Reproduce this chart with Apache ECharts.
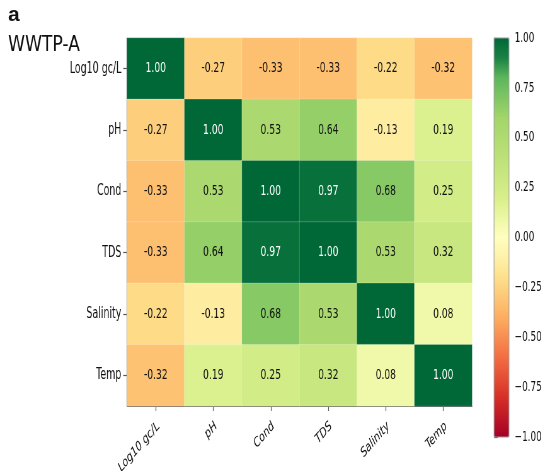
<!DOCTYPE html>
<html>
<head>
<meta charset="utf-8">
<script src="https://cdn.jsdelivr.net/npm/echarts@6/dist/echarts.min.js"></script>
<style>
html, body { margin: 0; padding: 0; background: #fff; overflow: hidden; }
#wrap { width: 550px; height: 471px; overflow: hidden; }
#main { height: 471px; transform-origin: 0 0; }
</style>
</head>
<body>
<div id="wrap"><div id="main"></div></div>
<script>
// variables, in row/column order
var vars = ['Log10 gc/L', 'pH', 'Cond', 'TDS', 'Salinity', 'Temp'];

// correlation matrix rows
var rowLog10    = [1.00, -0.27, -0.33, -0.33, -0.22, -0.32];
var rowPH       = [-0.27, 1.00, 0.53, 0.64, -0.13, 0.19];
var rowCond     = [-0.33, 0.53, 1.00, 0.97, 0.68, 0.25];
var rowTDS      = [-0.33, 0.64, 0.97, 1.00, 0.53, 0.32];
var rowSalinity = [-0.22, -0.13, 0.68, 0.53, 1.00, 0.08];
var rowTemp     = [-0.32, 0.19, 0.25, 0.32, 0.08, 1.00];
var rows = [rowLog10, rowPH, rowCond, rowTDS, rowSalinity, rowTemp];

// colorbar ticks
var cbMin = -1, cbMax = 1, cbStep = 0.25;

// RdYlGn-like ramp, one stop every 0.1 from -1 to 1
var ramp = ['#a50026', '#be1827', '#d73027', '#e54f35', '#f46d43', '#f88e52', '#fdae61',
            '#fdc776', '#fee08b', '#fef1aa', '#ffffbf', '#ecf7a5', '#d9ef8b', '#cbe882',
            '#bde178', '#b0db71', '#a3d56b', '#80c663', '#5db65c', '#1a8245', '#006837'];

// the original figure is squeezed horizontally; draw wide and squeeze with css
var SX = 0.63;
var el = document.getElementById('main');
el.style.width = Math.round(550 / SX) + 'px';
el.style.transform = 'scaleX(' + SX + ')';
function hx(px) { return px / SX; }

var myChart = echarts.init(el);

var cells = [];
rows.forEach(function (r, i) {
    r.forEach(function (v, j) {
        cells.push({
            value: [j, i, v],
            label: { color: v > 0.8 ? '#ffffff' : '#111111' }
        });
    });
});

var font = 'DejaVu Sans';

var option = {
    backgroundColor: '#ffffff',
    animation: false,
    graphic: [
        {
            type: 'text', x: hx(8), y: 5, scaleX: 1 / SX,
            style: { text: 'a', font: 'bold 21px "Liberation Sans"', fill: '#111', align: 'left', verticalAlign: 'top' }
        },
        {
            type: 'text', x: hx(8), y: 34, scaleX: 0.78 / SX,
            style: { text: 'WWTP-A', font: '22px "DejaVu Sans"', fill: '#111', align: 'left', verticalAlign: 'top' }
        }
    ],
    grid: [
        { left: hx(127), top: 38, width: hx(345), height: 368, outerBoundsMode: 'none', containLabel: false },
        { left: hx(494), top: 38, width: hx(15), height: 399, outerBoundsMode: 'none', containLabel: false,
          show: true, z: 10, backgroundColor: 'transparent', borderColor: '#999', borderWidth: 1 }
    ],
    xAxis: [
        {
            type: 'category', gridIndex: 0, data: vars,
            axisLine: { show: true, lineStyle: { color: '#555', width: 1.2 } },
            axisTick: { show: true, alignWithLabel: true, length: 5, lineStyle: { color: '#555', width: 1.2 } },
            axisLabel: { rotate: 36, fontFamily: font, fontSize: 14, color: '#111', margin: 13,
                         verticalAlign: 'top', interval: 0 }
        },
        {
            type: 'value', gridIndex: 1, show: false, min: 0, max: 1
        }
    ],
    yAxis: [
        {
            type: 'category', gridIndex: 0, data: vars, inverse: true,
            axisLine: { show: true, lineStyle: { color: '#555', width: 1.2 } },
            axisTick: { show: true, alignWithLabel: true, length: 6, lineStyle: { color: '#555', width: 1.2 } },
            axisLabel: { fontFamily: font, fontSize: 15, color: '#111', margin: 9, interval: 0 }
        },
        {
            type: 'value', gridIndex: 1, position: 'right',
            min: cbMin, max: cbMax, interval: cbStep,
            splitLine: { show: false },
            axisLine: { show: false },
            axisTick: { show: true, length: 6, lineStyle: { color: '#555', width: 1.2 } },
            axisLabel: {
                fontFamily: font, fontSize: 14, color: '#111', margin: 9,
                formatter: function (v) { return (v < 0 ? '\u2212' : '') + Math.abs(v).toFixed(2); }
            }
        }
    ],
    visualMap: {
        type: 'continuous',
        min: cbMin, max: cbMax,
        seriesIndex: 0,
        calculable: false,
        left: hx(494), top: 38,
        padding: 0,
        itemWidth: hx(15), itemHeight: 399,
        text: null,
        showLabel: false,
        inRange: { color: ramp }
    },
    series: [
        {
            type: 'heatmap',
            xAxisIndex: 0, yAxisIndex: 0,
            data: cells,
            itemStyle: { borderColor: 'rgba(255,255,255,0.35)', borderWidth: 0.6 },
            label: {
                show: true, fontFamily: font, fontSize: 14.5,
                formatter: function (p) { return p.value[2].toFixed(2); }
            },
            emphasis: { disabled: true }
        }
    ]
};

myChart.setOption(option);
window.onresize = function () { myChart.resize(); };
</script>
</body>
</html>
